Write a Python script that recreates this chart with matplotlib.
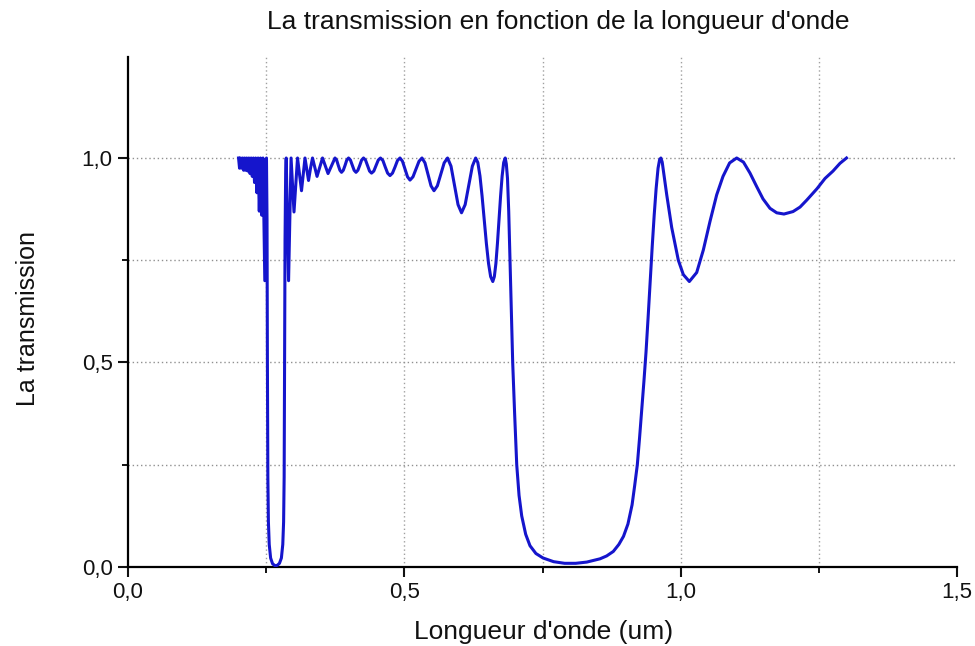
"""Transmission spectrum of a multilayer stack (recreated plot)."""

import matplotlib
matplotlib.use('Agg')
import matplotlib.pyplot as plt
import numpy as np

plt.rcParams['font.family'] = ['Liberation Sans', 'DejaVu Sans']

# Short-wavelength ripples (left of the narrow stop band)
wl_short = [0.2000, 0.2018, 0.2036, 0.2055, 0.2073, 0.2092, 0.2110, 0.2129,
            0.2148, 0.2168, 0.2187, 0.2207, 0.2227, 0.2248, 0.2268, 0.2289,
            0.2310, 0.2332, 0.2353, 0.2375, 0.2397, 0.2420, 0.2442, 0.2475,
            0.2505]
t_short = [1.000, 0.975, 1.000, 0.975, 1.000, 0.970, 1.000, 0.970,
           1.000, 0.968, 1.000, 0.962, 1.000, 0.955, 1.000, 0.940,
           1.000, 0.915, 1.000, 0.870, 1.000, 0.860, 1.000, 0.700,
           1.000]

# Narrow stop band around 0.27 um
wl_band3 = [0.2515, 0.2522, 0.2530, 0.2540, 0.2555, 0.2580, 0.2615, 0.2660,
            0.2700, 0.2740, 0.2775, 0.2800, 0.2815, 0.2825, 0.2833, 0.2841,
            0.2852]
t_band3 = [0.850, 0.500, 0.220, 0.110, 0.055, 0.022, 0.008, 0.003,
           0.004, 0.009, 0.022, 0.055, 0.110, 0.220, 0.500, 0.800,
           0.960]

# Ripples between the two stop bands
wl_mid = [0.2862, 0.2905, 0.2950, 0.3003, 0.3067, 0.3139, 0.3202, 0.3266,
          0.3302, 0.3338, 0.3379, 0.3420, 0.3470, 0.3519, 0.3569, 0.3619,
          0.3682, 0.3745,
          0.3775, 0.3804, 0.3834, 0.3863, 0.3895, 0.3927, 0.3958, 0.3990,
          0.4024, 0.4058, 0.4091, 0.4125, 0.4159, 0.4193, 0.4227, 0.4261,
          0.4297, 0.4334, 0.4370, 0.4406, 0.4447, 0.4487, 0.4528, 0.4568,
          0.4611, 0.4654, 0.4697, 0.4740, 0.4785, 0.4831, 0.4876, 0.4921,
          0.4966, 0.5012, 0.5057, 0.5102, 0.5156, 0.5211, 0.5265, 0.5319,
          0.5373, 0.5428, 0.5482, 0.5536, 0.5597, 0.5659, 0.5720, 0.5781,
          0.5844, 0.5908, 0.5971, 0.6034, 0.6100, 0.6165, 0.6230, 0.6290,
          0.6329, 0.6368, 0.6406, 0.6445, 0.6484, 0.6523, 0.6561, 0.6600,
          0.6628, 0.6656, 0.6684, 0.6712, 0.6741, 0.6769, 0.6797, 0.6825]
t_mid = [1.000, 0.700, 1.000, 0.868, 1.000, 0.920, 1.000, 0.945,
         0.975, 1.000, 0.978, 0.955, 0.978, 1.000, 0.981, 0.962,
         0.981, 1.000,
         0.995, 0.982, 0.970, 0.965, 0.970, 0.982, 0.995, 1.000,
         0.995, 0.982, 0.970, 0.965, 0.970, 0.982, 0.995, 1.000,
         0.995, 0.981, 0.968, 0.963, 0.968, 0.981, 0.995, 1.000,
         0.994, 0.978, 0.963, 0.957, 0.963, 0.978, 0.994, 1.000,
         0.992, 0.973, 0.954, 0.946, 0.954, 0.973, 0.992, 1.000,
         0.988, 0.960, 0.932, 0.920, 0.932, 0.960, 0.988, 1.000,
         0.980, 0.933, 0.886, 0.866, 0.886, 0.933, 0.980, 1.000,
         0.989, 0.956, 0.907, 0.849, 0.791, 0.742, 0.710, 0.698,
         0.710, 0.742, 0.791, 0.849, 0.907, 0.956, 0.989, 1.000]

# Main stop band around 0.8 um
wl_band1 = [0.6845, 0.6866, 0.6888, 0.6911, 0.6935, 0.6960, 0.6995, 0.7033,
            0.7075, 0.7123, 0.7195, 0.7273, 0.7380, 0.7509, 0.7700, 0.7900,
            0.8100, 0.8300, 0.8540, 0.8660, 0.8780, 0.8880, 0.8965, 0.9045,
            0.9120, 0.9168, 0.9215, 0.9255, 0.9295, 0.9335, 0.9372, 0.9410,
            0.9448, 0.9485, 0.9520, 0.9555, 0.9590, 0.9618, 0.9641]
t_band1 = [0.985, 0.950, 0.870, 0.750, 0.625, 0.500, 0.375, 0.250,
           0.175, 0.125, 0.080, 0.052, 0.033, 0.022, 0.013, 0.009,
           0.009, 0.012, 0.020, 0.027, 0.038, 0.055, 0.075, 0.105,
           0.152, 0.200, 0.250, 0.315, 0.385, 0.455, 0.525, 0.610,
           0.700, 0.785, 0.860, 0.925, 0.975, 0.996, 1.000]

# Long-wavelength tail
wl_tail = [0.9665, 0.9690, 0.9747, 0.9837, 0.9957, 1.0047, 1.0156, 1.0289,
           1.0409, 1.0530, 1.0651, 1.0765, 1.0885, 1.1013, 1.1135, 1.1254,
           1.1375, 1.1489, 1.1615, 1.1737, 1.1868, 1.2032, 1.2159, 1.2280,
           1.2466, 1.2611, 1.2755, 1.2882, 1.3000]
t_tail = [0.990, 0.965, 0.910, 0.830, 0.750, 0.715, 0.698, 0.720,
          0.775, 0.845, 0.910, 0.955, 0.988, 1.000, 0.990, 0.963,
          0.930, 0.900, 0.877, 0.866, 0.863, 0.869, 0.880, 0.897,
          0.925, 0.950, 0.968, 0.987, 1.000]

xticks = [0.0, 0.5, 1.0, 1.5]
xtick_labels = ['0,0', '0,5', '1,0', '1,5']
xminor = [0.25, 0.75, 1.25]
yticks = [0.0, 0.5, 1.0]
ytick_labels = ['0,0', '0,5', '1,0']
yminor = [0.25, 0.75]


def main():
    wavelength = np.concatenate([wl_short, wl_band3, wl_mid, wl_band1, wl_tail])
    transmission = np.concatenate([t_short, t_band3, t_mid, t_band1, t_tail])

    fig = plt.figure(figsize=(9.75, 6.46), dpi=100)
    axes = fig.add_axes([0.1313, 0.1223, 0.8503, 0.7895])

    # Dotted grid at major and minor positions (not on the frame)
    for xpos in xminor + xticks[1:-1]:
        axes.axvline(xpos, color='#a0a0a0', linestyle=(0, (1, 2)),
                     linewidth=1.0, zorder=0)
    for ypos in yminor + yticks[1:]:
        axes.axhline(ypos, color='#909090', linestyle=(0, (1, 2)),
                     linewidth=1.0, zorder=0)

    axes.plot(wavelength, transmission, color='#1515cc', linewidth=2.2,
              solid_joinstyle='round', zorder=3)

    # Appearance
    axes.set_xlim(0.0, 1.5)
    axes.set_ylim(0.0, 1.247)
    for side in ('top', 'right'):
        axes.spines[side].set_visible(False)
    for side in ('left', 'bottom'):
        axes.spines[side].set_linewidth(1.6)
    axes.set_xticks(xticks)
    axes.set_xticklabels(xtick_labels)
    axes.set_xticks(xminor, minor=True)
    axes.set_yticks(yticks)
    axes.set_yticklabels(ytick_labels)
    axes.set_yticks(yminor, minor=True)
    axes.tick_params(which='major', direction='out', length=7, width=1.5,
                     labelsize=16, pad=4, colors='#111111')
    axes.tick_params(which='minor', direction='out', length=4, width=1.3)

    fig.text(544 / 975, 1 - 632 / 646, "Longueur d'onde (um)",
             fontsize=19, ha='center', va='center', color='#111111')
    fig.text(28 / 975, 1 - 318 / 646, 'La transmission', rotation=90,
             fontsize=18, ha='center', va='center', color='#111111')
    fig.text(558 / 975, 1 - 22 / 646,
             "La transmission en fonction de la longueur d'onde",
             fontsize=19, ha='center', va='center', color='#111111')

    fig.savefig('out.png', dpi=100)
    plt.close(fig)


if __name__ == '__main__':
    main()
